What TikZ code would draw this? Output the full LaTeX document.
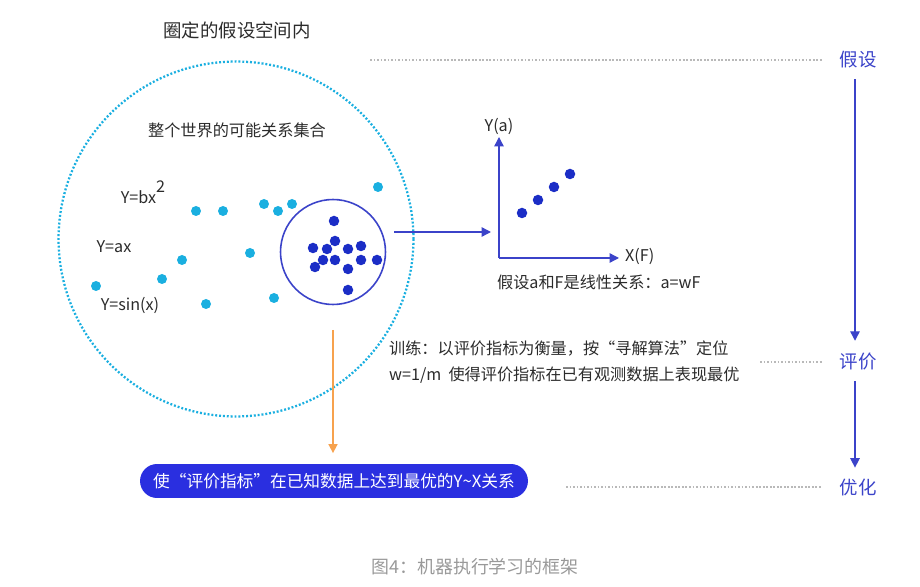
\documentclass[tikz,border=0pt]{standalone}
\usepackage{fontspec}
\setmainfont{Noto Sans CJK SC}
\usepackage{xcolor}
\definecolor{azulClaro}{HTML}{1AAFE0}
\definecolor{azulOscuro}{HTML}{1B2DC6}
\definecolor{azulLinea}{HTML}{3B43C9}
\definecolor{azulPildora}{HTML}{2A2FE0}
\definecolor{naranja}{HTML}{F7A24E}
\definecolor{textoGris}{HTML}{2B2B2B}
\usetikzlibrary{arrows.meta,positioning,calc}

\tikzset{
  puntoClaro/.style={circle,fill=azulClaro,inner sep=0pt,minimum size=0.2cm},
  puntoOscuro/.style={circle,fill=azulOscuro,inner sep=0pt,minimum size=0.21cm},
  etiqueta/.style={font=\fontsize{9.2}{11}\selectfont,text=textoGris,inner sep=1pt},
  etapa/.style={font=\fontsize{10.5}{12}\selectfont,text=azulLinea,inner sep=1pt},
  guia/.style={gray!55,line width=0.8pt,dash pattern=on 1pt off 1pt,shorten >=9pt},
  flecha/.style={azulLinea,line width=0.8pt,-{Triangle[length=1.9mm,width=1.9mm]}}
}

\begin{document}
\begin{tikzpicture}[x=0.02cm,y=-0.02cm]
\useasboundingbox (0,0) rectangle (920,587);

% Espacio de hipótesis
\node[circle,draw=azulClaro,line width=1.3pt,dash pattern=on 1.1pt off 1.1pt,
      minimum size=7.1cm,inner sep=0pt] (mundo) at (236,239) {};
\node[etiqueta,font=\fontsize{10.5}{12}\selectfont] (titulo) at (237,30) {圈定的假设空间内};
\node[etiqueta] (conjunto) at (237,130) {整个世界的可能关系集合};

\node[etiqueta] (cuad) at (143,192) {Y=bx\raisebox{1.3ex}{2}};
\node[etiqueta] (lin) at (114,247) {Y=ax};
\node[etiqueta] (sen) at (130,305) {Y=sin(x)};

% Puntos del conjunto
\foreach \px/\py [count=\i] in {378/187,196/211,223/211,264/204,278/211,292/204,
    250/253,182/260,162/279,96/286,206/304,274/298}
  \node[puntoClaro] (c\i) at (\px,\py) {};

% Subconjunto elegido
\node[circle,draw=azulLinea,line width=0.9pt,minimum size=2.1cm,inner sep=0pt]
  (sel) at (333,252) {};
\foreach \px/\py [count=\i] in {334/221,335/241,313/248,327/249,348/249,361/246,
    323/260,335/260,361/260,377/260,315/267,348/269,348/290}
  \node[puntoOscuro] (o\i) at (\px,\py) {};

% Ejes
\coordinate (origen) at (499,258);
\coordinate (ejeY) at (499,137);
\coordinate (ejeX) at (619,258);
\coordinate (entrada) at (491,232);
\draw[flecha] (origen) -- (ejeY);
\draw[flecha] (origen) -- (ejeX);
\node[etiqueta,anchor=south] (ya) at (ejeY) {Y(a)};
\node[etiqueta,anchor=west] (xf) at ($(ejeX)+(4,-2)$) {X(F)};
\foreach \px/\py [count=\i] in {522/213,538/200,554/187,570/174}
  \node[puntoOscuro] (l\i) at (\px,\py) {};
\node[etiqueta,anchor=west] (hip) at (495,282) {假设a和F是线性关系：a=wF};

\draw[flecha] ($(sel.east)+(8,-20)$) -- (entrada);

% Entrenamiento
\node[etiqueta,anchor=west,align=left] (entreno) at (387,362)
  {训练：以评价指标为衡量，按“寻解算法”定位\\[4pt]
   w=1/m\ \ 使得评价指标在已有观测数据上表现最优};

% Resultado
\node[rounded corners=0.34cm,fill=azulPildora,text=white,minimum width=7.76cm,
      minimum height=0.68cm,font=\fontsize{9.5}{11}\selectfont] (pildora) at (334,481)
  {使“评价指标”在已知数据上达到最优的Y\textasciitilde X关系};
\draw[naranja,line width=0.9pt,-{Triangle[length=1.8mm,width=1.8mm]},
      shorten <=14pt,shorten >=6pt] (sel.south) -- (pildora.north -| sel.south);

% Etapas
\node[etapa] (supuesto) at (858,60) {假设};
\node[etapa] (evaluar) at (858,362) {评价};
\node[etapa] (optimo) at (858,487) {优化};
\draw[flecha,shorten <=5pt,shorten >=6pt] (supuesto.south -| 855,0) -- (evaluar.north -| 855,0);
\draw[flecha,shorten <=5pt,shorten >=5pt] (evaluar.south -| 855,0) -- (optimo.north -| 855,0);

\coordinate (g1) at (370,60);
\coordinate (g2) at (760,362);
\coordinate (g3) at (566,487);
\draw[guia] (g1) -- (supuesto.west);
\draw[guia] (g2) -- (evaluar.west);
\draw[guia] (g3) -- (optimo.west);

% Pie
\node[font=\fontsize{10.2}{12}\selectfont,text=gray!80] (pie) at (475,567) {图4：机器执行学习的框架};
\end{tikzpicture}
\end{document}
